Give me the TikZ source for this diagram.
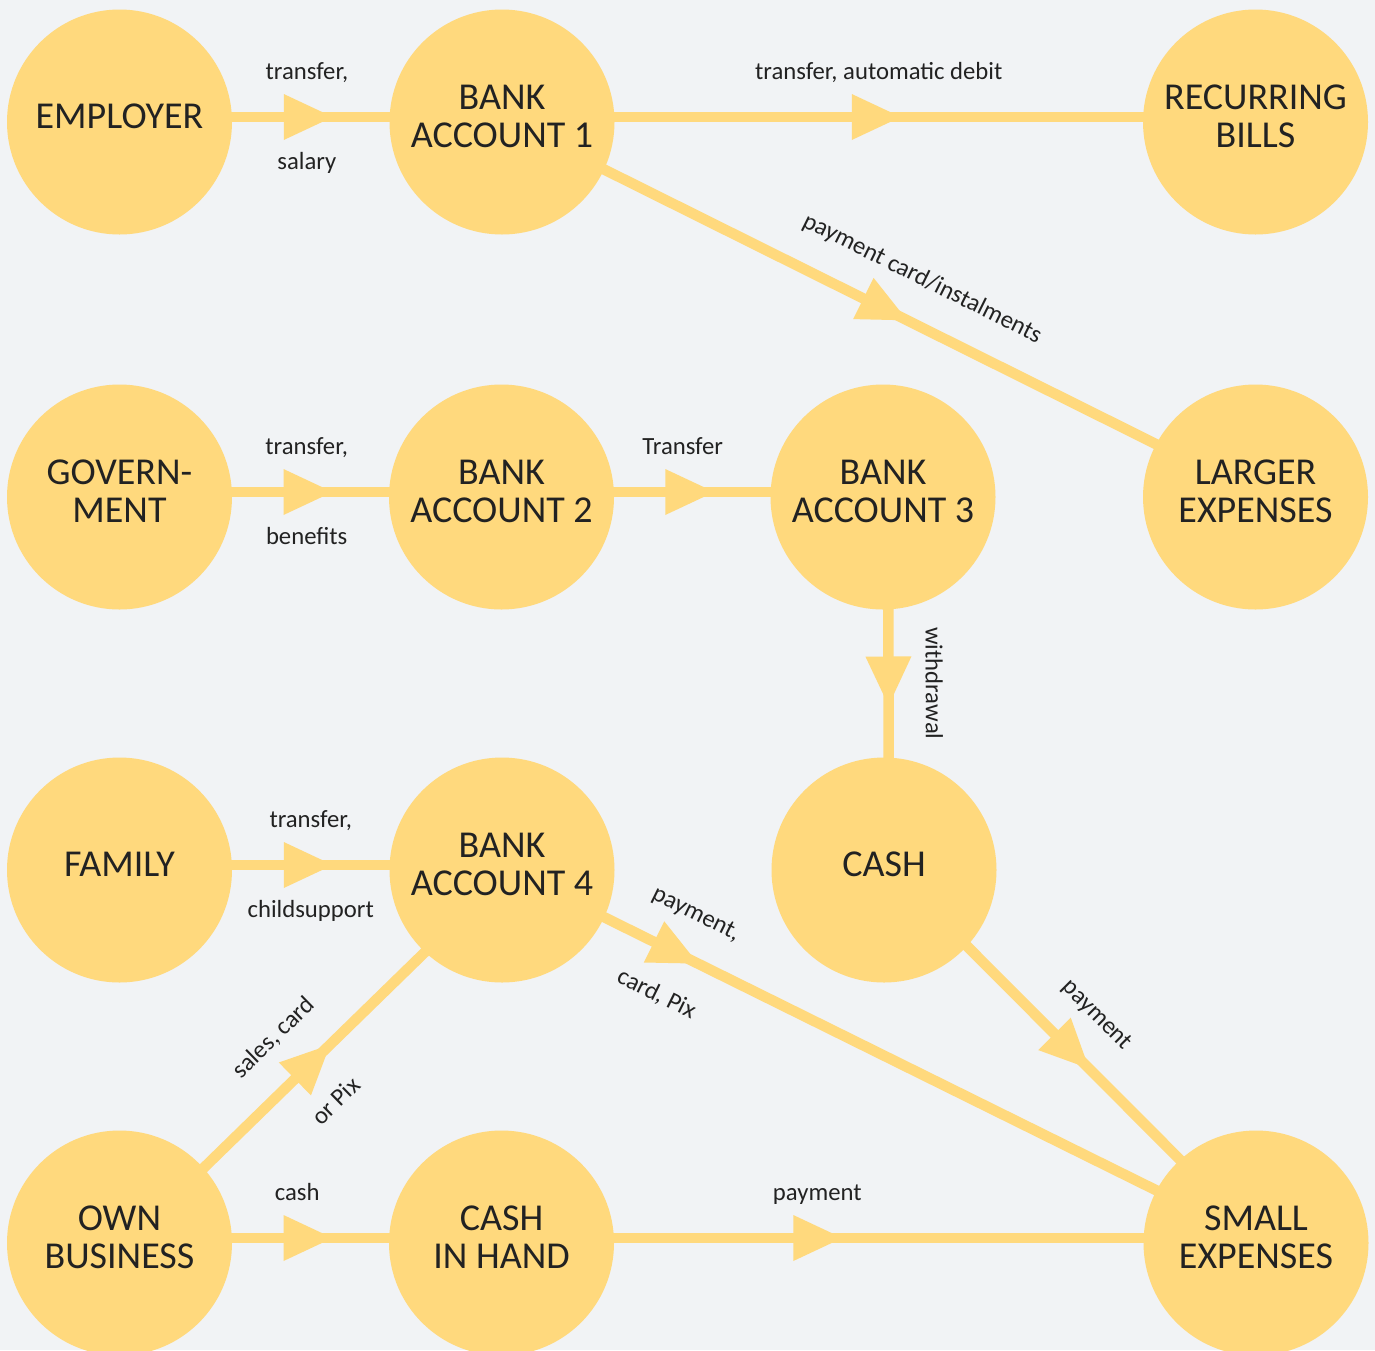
\documentclass[tikz,border=0pt]{standalone}
\usepackage{fontspec}
\setmainfont{Carlito}
\usetikzlibrary{calc,decorations.markings}
\definecolor{bgc}{RGB}{241,243,245}
\definecolor{nodey}{RGB}{255,217,125}
\definecolor{txt}{RGB}{34,34,34}
\pgfdeclarelayer{bgfill}
\pgfdeclarelayer{edges}
\pgfsetlayers{bgfill,edges,main}
\begin{document}
\begin{tikzpicture}[x=1pt,y=-1pt,
  circ/.style={circle, fill=nodey, minimum size=225pt, inner sep=0pt, align=center, text=txt, font=\fontsize{38pt}{38pt}\selectfont, text depth=11pt},
  conn/.style={draw=nodey, line width=10.5pt, postaction={decorate}, decoration={markings, mark=at position #1 with {\fill[nodey] (-27pt,-23pt) -- (22pt,0pt) -- (-27pt,23pt) -- cycle;}}},
  conn/.default=0.5,
  lab/.style={sloped, text=txt, font=\fontsize{24.7pt}{28pt}\selectfont, inner xsep=0pt, text height=18pt, text depth=5pt},
  labA/.style={lab, anchor=south, inner ysep=27pt, pos=#1}, labA/.default=0.5,
  labB/.style={lab, anchor=north, inner ysep=29.5pt, pos=#1}, labB/.default=0.5
]
\useasboundingbox (0,0) rectangle (1375,1350);
\begin{pgfonlayer}{bgfill}
\fill[bgc] (0,0) rectangle (1375,1350);
\end{pgfonlayer}
\clip (0,0) rectangle (1375,1350);

\node[circ] (emp)  at (119.5,122)  {EMPLOYER};
\node[circ] (ba1)  at (502,122)    {BANK\\ACCOUNT 1};
\node[circ] (rb)   at (1255.5,122) {RECURRING\\BILLS};
\node[circ] (gov)  at (119.5,497)  {GOVERN-\\MENT};
\node[circ] (ba2)  at (501.5,497)  {BANK\\ACCOUNT 2};
\node[circ] (ba3)  at (883,497)    {BANK\\ACCOUNT 3};
\node[circ] (lg)   at (1255.5,497) {LARGER\\EXPENSES};
\node[circ] (fam)  at (119.5,870)  {FAMILY};
\node[circ] (ba4)  at (502,870)    {BANK\\ACCOUNT 4};
\node[circ] (cash) at (884,870)    {CASH};
\node[circ] (own)  at (119.5,1243) {OWN\\BUSINESS};
\node[circ] (cih)  at (501.5,1243) {CASH\\IN HAND};
\node[circ] (sm)   at (1256,1243)  {SMALL\\EXPENSES};

\begin{pgfonlayer}{edges}
\draw[conn] ($(emp)!5pt!90:(ba1)$) -- ($(ba1)!5pt!-90:(emp)$)
  node[labA=0.49] (l1a) {transfer,} node[labB=0.49] (l1b) {salary};
\draw[conn] ($(ba1)!5pt!90:(rb)$) -- ($(rb)!5pt!-90:(ba1)$)
  node[labA] (l2) {transfer, automatic debit};
\draw[conn=0.51] ($(ba1)!3pt!90:(lg)$) -- ($(lg)!3pt!-90:(ba1)$)
  node[labA=0.53] (l3) {payment card/instalments};
\draw[conn] ($(gov)!5pt!90:(ba2)$) -- ($(ba2)!5pt!-90:(gov)$)
  node[labA=0.49] (l4a) {transfer,} node[labB=0.49] (l4b) {benefits};
\draw[conn] ($(ba2)!5pt!90:(ba3)$) -- ($(ba3)!5pt!-90:(ba2)$)
  node[labA=0.475] (l5) {Transfer};
\draw[conn] ($(ba3)!5pt!90:(cash)$) -- ($(cash)!5pt!-90:(ba3)$)
  node[labA] (l6) {withdrawal};
\draw[conn] ($(fam)!5pt!90:(ba4)$) -- ($(ba4)!5pt!-90:(fam)$)
  node[labA=0.5] (l7a) {transfer,} node[labB=0.5] (l7b) {childsupport};
\draw[conn=0.232] ($(ba4)!3pt!90:(sm)$) -- ($(sm)!3pt!-90:(ba4)$)
  node[labA=0.23] (l8a) {payment,} node[labB=0.23] (l8b) {card, Pix};
\draw[conn] ($(cash)!5pt!90:(sm)$) -- ($(sm)!5pt!-90:(cash)$)
  node[labA=0.48] (l9) {payment};
\draw[conn] ($(own)!5pt!-90:(ba4)$) -- ($(ba4)!5pt!90:(own)$)
  node[labA=0.475] (l10a) {sales, card} node[labB=0.475] (l10b) {or Pix};
\draw[conn] ($(own)!5pt!90:(cih)$) -- ($(cih)!5pt!-90:(own)$)
  node[labA=0.465] (l11) {cash};
\draw[conn=0.4225] ($(cih)!5pt!90:(sm)$) -- ($(sm)!5pt!-90:(cih)$)
  node[labA=0.4185] (l12) {payment};
\end{pgfonlayer}
\end{tikzpicture}
\end{document}
